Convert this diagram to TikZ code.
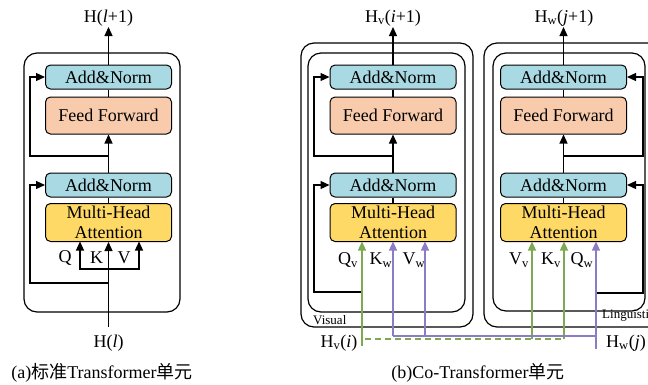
\documentclass[tikz,border=0pt]{standalone}
\usepackage{fontspec}
\setmainfont{Liberation Serif}
\newfontfamily\cjk{Noto Sans CJK SC}
\usetikzlibrary{arrows.meta}
\definecolor{normblue}{HTML}{A9D9E3}
\definecolor{ffsalmon}{HTML}{F8CBAD}
\definecolor{mhagold}{HTML}{FFD966}
\definecolor{visgreen}{HTML}{7EA852}
\definecolor{lngpurple}{HTML}{8C7CC4}
\begin{document}
\begin{tikzpicture}[x=1pt,y=-1pt,
  font=\fontsize{18}{20}\selectfont,
  blk/.style={draw, rounded corners=5pt, line width=1pt, minimum width=126pt,
              inner sep=0pt, align=center},
  addnorm/.style={blk, fill=normblue, minimum height=24pt},
  ffwd/.style={blk, fill=ffsalmon, minimum height=37pt},
  mha/.style={blk, fill=mhagold, minimum height=38pt, font=\fontsize{18}{19.5}\selectfont},
  link/.style={line width=1.2pt},
  tip/.style={-{Triangle[length=9pt,width=8pt]}},
  frame/.style={draw, rounded corners=13pt, line width=1.2pt},
  lbl/.style={inner sep=0pt},
  small/.style={inner sep=0pt, font=\fontsize{13}{15}\selectfont},
]
\useasboundingbox (0,0) rectangle (648,384);
\clip (0,0) rectangle (648,384);

%% ---------- (a) standard Transformer unit ----------
\draw[frame] (24,53) rectangle (180,312);
\node[addnorm] (an2a) at (108.5,77) {Add\&Norm};
\node[ffwd]    (ffa)  at (108.5,115.5) {Feed Forward};
\node[addnorm] (an1a) at (108.5,185) {Add\&Norm};
\node[mha]     (mhaa) at (108.5,222.5) {Multi-Head\\Attention};

\node[lbl] (outa) at (108.5,18) {H(\textit{l}+1)};
\node[lbl] (ina)  at (108.5,343) {H(\textit{l})};
\coordinate (topa) at (108.5,27);
\coordinate (ina0) at (108.5,327);

\draw[link,tip] (an2a.north) -- (topa);
\draw[link] (ffa.north) -- (an2a.south);
\draw[link,tip] (an1a.north) -- (ffa.south);
\draw[link] (mhaa.north) -- (an1a.south);
\draw[link,tip] (ina0) -- (mhaa.south);
\draw[link,tip] (108.5,269) -| (80,241.5);
\draw[link,tip] (108.5,269) -| (139,241.5);
\draw[link,tip] (108.5,156) -| (30,77) -- (an2a.west);
\draw[link,tip] (108.5,283) -| (30,185) -- (an1a.west);

\node[lbl] (qa) at (65,258) {Q};
\node[lbl] (ka) at (96.5,258) {K};
\node[lbl] (va) at (124,258) {V};

\node[lbl] (capa) at (102,373) {(a)\cjk 标准\rmfamily Transformer\cjk 单元};

%% ---------- (b) Co-Transformer unit: visual stream ----------
\draw[frame] (301,43) rectangle (473,327);
\draw[frame] (308,53) rectangle (465,312);
\node[addnorm] (an2b) at (393,77) {Add\&Norm};
\node[ffwd]    (ffb)  at (393,115.5) {Feed Forward};
\node[addnorm] (an1b) at (393,185) {Add\&Norm};
\node[mha]     (mhab) at (393,222.5) {Multi-Head\\Attention};

\node[lbl] (outb) at (393,18) {H\textsubscript{v}(\textit{i}+1)};
\coordinate (topb) at (393,27);
\draw[link,tip] (an2b.north) -- (topb);
\draw[link] (ffb.north) -- (an2b.south);
\draw[link,tip] (an1b.north) -- (ffb.south);
\draw[link] (mhab.north) -- (an1b.south);
\draw[link,tip] (393,156) -| (314,77) -- (an2b.west);
\draw[link,tip] (362,292) -| (314,185) -- (an1b.west);

\node[lbl] (qb) at (348,260) {Q\textsubscript{v}};
\node[lbl] (kb) at (381,260) {K\textsubscript{w}};
\node[lbl] (vb) at (414,260) {V\textsubscript{w}};
\node[small, anchor=west] (visl) at (313,320) {Visual};

%% ---------- (b) Co-Transformer unit: linguistic stream ----------
\draw[frame] (484,43) rectangle (662,327);
\draw[frame] (493,53) rectangle (645,311);
\node[addnorm] (an2c) at (563.5,77) {Add\&Norm};
\node[ffwd]    (ffc)  at (563.5,115.5) {Feed Forward};
\node[addnorm] (an1c) at (563.5,185) {Add\&Norm};
\node[mha]     (mhac) at (563.5,222.5) {Multi-Head\\Attention};

\node[lbl] (outc) at (564,18) {H\textsubscript{w}(\textit{j}+1)};
\coordinate (topc) at (563.5,27);
\draw[link,tip] (an2c.north) -- (topc);
\draw[link] (ffc.north) -- (an2c.south);
\draw[link,tip] (an1c.north) -- (ffc.south);
\draw[link] (mhac.north) -- (an1c.south);
\draw[link,tip] (563.5,156) -| (643,77) -- (an2c.east);
\draw[link,tip] (596,293) -| (643,185) -- (an1c.east);

\node[lbl] (vc) at (519,260) {V\textsubscript{v}};
\node[lbl] (kc) at (551,260) {K\textsubscript{v}};
\node[lbl] (qc) at (582,260) {Q\textsubscript{w}};
\node[small, anchor=west] (lngl) at (602,316) {Linguistic};

%% ---------- cross-stream inputs ----------
\node[lbl] (inb) at (339,343) {H\textsubscript{v}(\textit{i})};
\node[lbl] (inc) at (626,343) {H\textsubscript{w}(\textit{j})};
\coordinate (hv0) at (362,346);
\coordinate (hw0) at (596,349);

% visual features: query of the visual block, key/value of the linguistic block
\draw[link,visgreen,tip] (hv0) -- (362,241.5);
\draw[link,visgreen,dash pattern=on 6pt off 4pt] (365,339) -- (564,339);
\draw[link,visgreen,tip] (532,339) -- (532,241.5);
\draw[link,visgreen,tip] (564,339) -- (564,241.5);

% linguistic features: query of the linguistic block, key/value of the visual block
\draw[link,lngpurple,tip] (hw0) -- (596,241.5);
\draw[link,lngpurple] (596,336) -- (393,336);
\draw[link,lngpurple,tip] (393,336) -- (393,241.5);
\draw[link,lngpurple,tip] (425,336) -- (425,241.5);

\node[lbl] (capb) at (478,373) {(b)Co-Transformer\cjk 单元};
\end{tikzpicture}
\end{document}
